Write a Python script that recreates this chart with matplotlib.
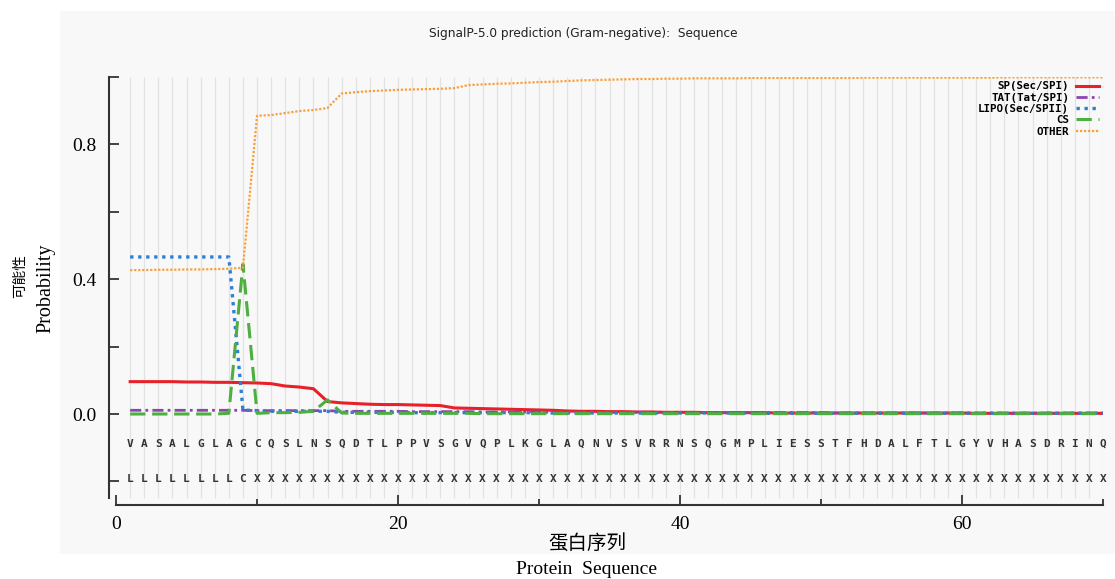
import numpy as np
import matplotlib.pyplot as plt
from matplotlib.patches import Rectangle
from matplotlib.ticker import FixedLocator

# dati (posizioni 1..70)
seq_aa = "VASALGLAGCQSLNSQDTLPPVSGVQPLKGLAQNVSVRRNSQGMPLIESSTFHDALFTLGYVHASDRINQ"
seq_pred = "LLLLLLLLC" + "X" * 61

sp = [0.096, 0.096, 0.096, 0.096, 0.095, 0.095, 0.094, 0.094, 0.093, 0.092,
      0.090, 0.083, 0.080, 0.075, 0.037, 0.033, 0.031, 0.029, 0.028, 0.028,
      0.027, 0.026, 0.025, 0.018, 0.017, 0.016, 0.015, 0.014, 0.013, 0.012,
      0.011, 0.009, 0.008, 0.008, 0.007, 0.007, 0.006, 0.006, 0.005, 0.005,
      0.005, 0.004, 0.004, 0.004, 0.004, 0.004, 0.003, 0.003, 0.003, 0.003,
      0.003, 0.003, 0.003, 0.003, 0.003, 0.003, 0.003, 0.003, 0.003, 0.003,
      0.002, 0.002, 0.002, 0.002, 0.002, 0.002, 0.002, 0.002, 0.002, 0.002]
tat = [0.011, 0.011, 0.011, 0.011, 0.011, 0.011, 0.011, 0.011, 0.011, 0.010,
       0.010, 0.010, 0.010, 0.010, 0.010, 0.008, 0.008, 0.008, 0.008, 0.008,
       0.007, 0.007, 0.007, 0.007, 0.007, 0.006, 0.006, 0.006, 0.006, 0.006,
       0.005, 0.005, 0.005, 0.005, 0.005, 0.005, 0.005, 0.005, 0.004, 0.004,
       0.004, 0.004, 0.004, 0.004, 0.004, 0.004, 0.004, 0.004, 0.004, 0.004,
       0.003, 0.003, 0.003, 0.003, 0.003, 0.003, 0.003, 0.003, 0.003, 0.003,
       0.003, 0.003, 0.003, 0.003, 0.003, 0.003, 0.003, 0.003, 0.003, 0.003]
lipo = [0.466, 0.466, 0.466, 0.466, 0.466, 0.466, 0.466, 0.466, 0.012, 0.010,
        0.008, 0.008, 0.008, 0.008, 0.008, 0.005, 0.005, 0.005, 0.005, 0.005,
        0.004, 0.004, 0.004, 0.004, 0.004, 0.004, 0.004, 0.004, 0.004, 0.004,
        0.003, 0.003, 0.003, 0.003, 0.003, 0.003, 0.003, 0.003, 0.003, 0.003,
        0.003, 0.003, 0.003, 0.003, 0.003, 0.002, 0.002, 0.002, 0.002, 0.002,
        0.002, 0.002, 0.002, 0.002, 0.002, 0.002, 0.002, 0.002, 0.002, 0.002,
        0.002, 0.002, 0.002, 0.002, 0.002, 0.002, 0.002, 0.002, 0.002, 0.002]
cs = [0.000, 0.000, 0.000, 0.000, 0.000, 0.000, 0.000, 0.002, 0.445, 0.002,
      0.004, 0.004, 0.005, 0.008, 0.042, 0.003, 0.002, 0.002, 0.002, 0.002,
      0.002, 0.002, 0.002, 0.002, 0.002, 0.001, 0.001, 0.001, 0.001, 0.001,
      0.001, 0.001, 0.001, 0.001, 0.001, 0.001, 0.001, 0.001, 0.001, 0.001,
      0.001, 0.001, 0.001, 0.001, 0.001, 0.001, 0.001, 0.001, 0.001, 0.001,
      0.001, 0.001, 0.001, 0.001, 0.001, 0.001, 0.001, 0.001, 0.001, 0.001,
      0.001, 0.001, 0.001, 0.001, 0.001, 0.001, 0.001, 0.001, 0.001, 0.001]
other = [0.427, 0.427, 0.428, 0.428, 0.429, 0.429, 0.430, 0.431, 0.434, 0.885,
         0.887, 0.893, 0.899, 0.902, 0.908, 0.951, 0.955, 0.958, 0.960, 0.962,
         0.963, 0.964, 0.965, 0.967, 0.976, 0.978, 0.980, 0.981, 0.983, 0.985,
         0.986, 0.988, 0.990, 0.991, 0.992, 0.993, 0.994, 0.994, 0.995, 0.995,
         0.996, 0.996, 0.996, 0.996, 0.997, 0.997, 0.997, 0.997, 0.997, 0.997,
         0.997, 0.997, 0.998, 0.998, 0.998, 0.998, 0.998, 0.998, 0.998, 0.998,
         0.998, 0.998, 0.999, 0.999, 0.999, 0.999, 0.999, 0.999, 0.999, 0.999]
pos = np.arange(1, len(seq_aa) + 1)

serif = ['Liberation Serif', 'DejaVu Serif']
cjk = ['Noto Sans CJK SC', 'DejaVu Sans']

fig = plt.figure(figsize=(11.15, 5.79), dpi=100)
# pannello grigio chiaro di sfondo
fig.patches.append(Rectangle((60 / 1115, 25 / 579), 1055 / 1115, 543 / 579,
                             transform=fig.transFigure, facecolor='#f8f8f8',
                             edgecolor='none', zorder=-5))

ax = fig.add_axes([109 / 1115, 74 / 579, 994 / 1115, 428 / 579])
ax.set_facecolor('none')
ax.set_xlim(-0.5, 70)
ax.set_ylim(-0.27, 1.0)

# griglia verticale
ax.vlines(pos, -0.25, 1.0, color='#e2e2e2', lw=0.9, zorder=1)

ax.plot(pos, sp, color='#e8202a', lw=2.2, label='SP(Sec/SPI)', zorder=3)
ax.plot(pos, tat, color='#8e44ad', lw=2, ls=(0, (4, 1.5, 1, 1.5)), label='TAT(Tat/SPI)', zorder=3)
ax.plot(pos, lipo, color='#2f7fd0', lw=2.4, ls=(0, (1, 1.4)), label='LIPO(Sec/SPII)', zorder=3)
ax.plot(pos, cs, color='#4caf3f', lw=2.2, ls=(0, (5, 2.2)), label='CS', zorder=3)
ax.plot(pos, other, color='#f7a040', lw=1.6, ls=(0, (1, 0.8)), label='OTHER', zorder=3)

for p, a, b in zip(pos, seq_aa, seq_pred):
    ax.text(p, -0.089, a, ha='center', va='center', fontsize=8,
            family='DejaVu Sans Mono', weight='bold', color='#333333')
    ax.text(p, -0.193, b, ha='center', va='center', fontsize=8,
            family='DejaVu Sans Mono', weight='bold', color='#333333')

leg = ax.legend(loc='upper right', bbox_to_anchor=(1.003, 1.005), markerfirst=False,
                frameon=False, handlelength=2.2, handletextpad=0.6,
                labelspacing=0.12, borderaxespad=0.2,
                prop={'family': 'DejaVu Sans Mono', 'weight': 'bold', 'size': 7.8})
for t in leg.get_texts():
    t.set_ha('right')

for s in ['top', 'right']:
    ax.spines[s].set_visible(False)
ax.spines['left'].set_bounds(-0.25, 1.0)
ax.spines['bottom'].set_bounds(0, 70)
for s in ['left', 'bottom']:
    ax.spines[s].set_color('#333333')
    ax.spines[s].set_linewidth(1.5)

ax.xaxis.set_major_locator(FixedLocator([0, 20, 40, 60]))
ax.xaxis.set_minor_locator(FixedLocator([10, 30, 50, 70]))
ax.yaxis.set_major_locator(FixedLocator([0.0, 0.4, 0.8]))
ax.yaxis.set_minor_locator(FixedLocator([-0.2, 0.2, 0.6, 1.0]))
ax.set_yticklabels(['0.0', '0.4', '0.8'])
ax.tick_params(axis='both', which='both', direction='in', color='#333333', width=1.3)
ax.tick_params(axis='x', which='major', length=7, pad=8)
ax.tick_params(axis='x', which='minor', length=4)
ax.tick_params(axis='y', which='major', length=7, pad=9)
ax.tick_params(axis='y', which='minor', length=7)
for lab in ax.get_xticklabels() + ax.get_yticklabels():
    lab.set_family(serif)
    lab.set_fontsize(14)

fig.text(583 / 1115, 1 - 33 / 579, 'SignalP-5.0 prediction (Gram-negative):  Sequence',
         ha='center', va='center', fontsize=8.7,
         family=['Liberation Sans Narrow', 'DejaVu Sans'], color='#222222')
fig.text(587 / 1115, 1 - 543 / 579, '蛋白序列', ha='center', va='center',
         fontsize=14, family=cjk)
fig.text(587 / 1115, 1 - 569 / 579, 'Protein  Sequence', ha='center', va='center',
         fontsize=14, family=serif)
fig.text(20 / 1115, 1 - 276 / 579, '可能性', ha='center', va='center', rotation=90,
         fontsize=10.5, family=cjk)
fig.text(46 / 1115, 1 - 288 / 579, 'Probability', ha='center', va='center', rotation=90,
         fontsize=14.5, family=serif)

fig.savefig('out.png', dpi=100)
